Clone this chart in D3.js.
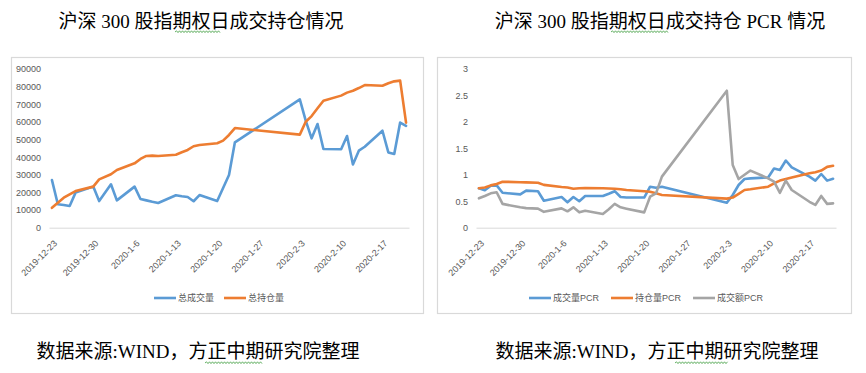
<!DOCTYPE html>
<html>
<head>
<meta charset="utf-8">
<script src="https://cdn.jsdelivr.net/npm/d3@7/dist/d3.min.js"></script>
<style>
  html, body { margin: 0; padding: 0; background: #fff; }
  svg { display: block; }
  .title, .source { font-family: "Liberation Serif", "Noto Sans CJK SC", serif; fill: #000; }
  .tick text { font-family: "Liberation Sans", "Noto Sans CJK SC", sans-serif; font-size: 9px; fill: #595959; }
  .legend text { font-family: "Liberation Sans", "Noto Sans CJK SC", sans-serif; font-size: 9px; fill: #595959; }
</style>
</head>
<body>
<script>
// 交易日
const dates = [
  '2019-12-23', '2019-12-24', '2019-12-25', '2019-12-26', '2019-12-27', '2019-12-30', '2019-12-31',
  '2020-01-02', '2020-01-03', '2020-01-06', '2020-01-07', '2020-01-08', '2020-01-09', '2020-01-10',
  '2020-01-13', '2020-01-14', '2020-01-15', '2020-01-16', '2020-01-17', '2020-01-20', '2020-01-21',
  '2020-01-22', '2020-01-23',
  '2020-02-03', '2020-02-04', '2020-02-05', '2020-02-06', '2020-02-07', '2020-02-10', '2020-02-11',
  '2020-02-12', '2020-02-13', '2020-02-14', '2020-02-17', '2020-02-18', '2020-02-19', '2020-02-20',
  '2020-02-21'
];

// 左图：总成交量 / 总持仓量
const totalVolume = [
  27000, 13300, 12900, 12300, 19900, 23300, 15100,
  24600, 15500, 23300, 16300, 15500, 14700, 14000,
  18400, 17800, 17400, 15000, 18500, 15100, 22500,
  29900, 48400,
  72800, 60700, 50700, 58800, 44600, 44500, 52000,
  35900, 43700, 45900, 55000, 42700, 41800, 59600,
  57700
];
const totalOI = [
  11300, 14200, 17000, 18900, 20800, 23300, 27400,
  30300, 32700, 36500, 39000, 40700, 40900, 40700,
  41400, 42800, 44100, 46200, 46900, 47900, 49400,
  52600, 56500,
  52800, 60100, 63300, 67700, 72000, 74900, 76600,
  77700, 79200, 80900, 80500, 81900, 83000, 83400,
  59600
];

// 右图：PCR
const volPCR = [
  0.745, 0.707, 0.794, 0.80, 0.66, 0.63, 0.70,
  0.69, 0.51, 0.58, 0.48, 0.58, 0.50, 0.60,
  0.60, 0.643, 0.69, 0.58, 0.57, 0.57, 0.775,
  0.756, 0.775,
  0.473, 0.618, 0.807, 0.92, 0.933, 0.95, 1.12,
  1.09, 1.27, 1.14, 0.964, 0.89, 1.015, 0.89,
  0.926
];
const oiPCR = [
  0.745, 0.76, 0.80, 0.826, 0.87, 0.86, 0.856,
  0.85, 0.81, 0.77, 0.76, 0.735, 0.745, 0.75,
  0.745, 0.74, 0.735, 0.726, 0.713, 0.69, 0.68,
  0.65, 0.618,
  0.55, 0.57, 0.64, 0.713, 0.726, 0.775, 0.84,
  0.89, 0.92, 0.95, 1.03, 1.05, 1.08, 1.15,
  1.17
];
const amtPCR = [
  0.556, 0.60, 0.65, 0.67, 0.45, 0.385, 0.37,
  0.36, 0.30, 0.365, 0.31, 0.385, 0.29, 0.32,
  0.26, 0.35, 0.45, 0.385, 0.36, 0.29, 0.586,
  0.65, 0.965,
  2.59, 1.185, 0.92, 1.0, 1.08, 0.933, 0.87,
  0.66, 0.89, 0.713, 0.49, 0.43, 0.60, 0.45,
  0.46
];

const xTickLabels = ['2019-12-23', '2019-12-30', '2020-1-6', '2020-1-13', '2020-1-20',
  '2020-1-27', '2020-2-3', '2020-2-10', '2020-2-17'];
const leftYTicks = [0, 10000, 20000, 30000, 40000, 50000, 60000, 70000, 80000, 90000];
const rightYTicks = [0, 0.5, 1, 1.5, 2, 2.5, 3];

const leftSeries = [
  { name: '总成交量', values: totalVolume, color: '#5B9BD5' },
  { name: '总持仓量', values: totalOI, color: '#ED7D31' }
];
const rightSeries = [
  { name: '成交量PCR', values: volPCR, color: '#5B9BD5' },
  { name: '持仓量PCR', values: oiPCR, color: '#ED7D31' },
  { name: '成交额PCR', values: amtPCR, color: '#A5A5A5' }
];

const parse = d3.utcParse('%Y-%m-%d');
const days = dates.map(parse);
const tickDates = xTickLabels.map(parse);

const svg = d3.select('body').append('svg')
  .attr('width', 866)
  .attr('height', 373);

function wavy(x1, x2, y) {
  let p = 'M' + x1 + ',' + y;
  let up = true;
  for (let x = x1 + 1.5; x <= x2; x += 1.5) {
    p += 'L' + x + ',' + (up ? y - 1.2 : y + 0.6);
    up = !up;
  }
  return p;
}

function drawChart(opt) {
  const g = svg.append('g');

  g.append('rect')
    .attr('x', opt.box[0] + 0.5)
    .attr('y', opt.box[1] + 0.5)
    .attr('width', opt.box[2])
    .attr('height', opt.box[3])
    .attr('fill', '#fff')
    .attr('stroke', '#d9d9d9')
    .attr('stroke-width', 1.2);

  const halfDay = 12 * 3600 * 1000;
  const x = d3.scaleUtc()
    .domain([new Date(days[0].getTime() - halfDay), new Date(days[days.length - 1].getTime() + halfDay)])
    .range(opt.xRange);

  const y = d3.scaleLinear()
    .domain(opt.yDomain)
    .range(opt.yRange);

  // x 轴
  const xAxis = g.append('g')
    .attr('transform', 'translate(0,' + opt.yRange[0] + ')')
    .call(d3.axisBottom(x)
      .tickValues(tickDates)
      .tickFormat(function(d, i) { return xTickLabels[i]; })
      .tickSize(0)
      .tickSizeOuter(0));
  xAxis.select('.domain').attr('stroke', '#d9d9d9').attr('stroke-width', 1);
  xAxis.selectAll('.tick text')
    .attr('text-anchor', 'end')
    .attr('transform', 'translate(3,14) rotate(-45)')
    .attr('dy', '0.35em')
    .attr('y', 0);

  // y 轴
  const yAxis = g.append('g')
    .attr('transform', 'translate(' + opt.xRange[0] + ',0)')
    .call(d3.axisLeft(y)
      .tickValues(opt.yTicks)
      .tickFormat(d3.format('~g'))
      .tickSize(0)
      .tickPadding(opt.yPad));
  yAxis.select('.domain').remove();
  yAxis.selectAll('.tick text').attr('fill', '#595959');

  const line = d3.line()
    .x(function(d, i) { return x(days[i]); })
    .y(function(d) { return y(d); });

  opt.series.forEach(function(s) {
    g.append('path')
      .datum(s.values)
      .attr('fill', 'none')
      .attr('stroke', s.color)
      .attr('stroke-width', 2.6)
      .attr('stroke-linejoin', 'round')
      .attr('stroke-linecap', 'round')
      .attr('d', line);
  });

  // 图例
  const legend = g.append('g').attr('class', 'legend');
  let lx = opt.legendX;
  opt.series.forEach(function(s) {
    legend.append('line')
      .attr('x1', lx).attr('x2', lx + 22)
      .attr('y1', 298).attr('y2', 298)
      .attr('stroke', s.color)
      .attr('stroke-width', 2.6);
    const t = legend.append('text')
      .attr('x', lx + 24)
      .attr('y', 298)
      .attr('dy', '0.35em')
      .text(s.name);
    lx += 24 + t.node().getComputedTextLength() + opt.legendGap;
  });

  svg.append('text')
    .attr('class', 'title')
    .attr('x', opt.titleX)
    .attr('y', 28)
    .attr('text-anchor', 'middle')
    .attr('font-size', 19)
    .text(opt.title);

  svg.append('text')
    .attr('class', 'source')
    .attr('x', opt.titleX - 3)
    .attr('y', 358)
    .attr('text-anchor', 'middle')
    .attr('font-size', 19)
    .text('数据来源:WIND，方正中期研究院整理');

  svg.append('path')
    .attr('d', wavy(opt.titleWavy[0], opt.titleWavy[1], 32))
    .attr('fill', 'none').attr('stroke', '#3c9c3c').attr('stroke-width', 0.8);
  svg.append('path')
    .attr('d', wavy(opt.srcWavy[0], opt.srcWavy[1], 363))
    .attr('fill', 'none').attr('stroke', '#3c9c3c').attr('stroke-width', 0.8);
}

drawChart({
  box: [11, 57, 412, 256],
  xRange: [49, 409],
  yRange: [227.7, 69],
  yDomain: [0, 90000],
  yTicks: leftYTicks,
  yPad: 8,
  series: leftSeries,
  legendX: 154,
  legendGap: 10,
  title: '沪深 300 股指期权日成交持仓情况',
  titleX: 201,
  titleWavy: [175, 220],
  srcWavy: [205, 262]
});

drawChart({
  box: [437, 57, 414, 256],
  xRange: [476, 836],
  yRange: [227.7, 69],
  yDomain: [0, 3],
  yTicks: rightYTicks,
  yPad: 8,
  series: rightSeries,
  legendX: 529,
  legendGap: 12,
  title: '沪深 300 股指期权日成交持仓 PCR 情况',
  titleX: 660,
  titleWavy: [611, 668],
  srcWavy: [675, 728]
});
</script>
</body>
</html>
